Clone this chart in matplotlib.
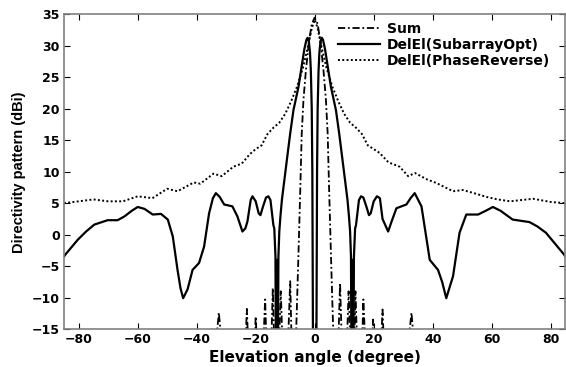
import matplotlib
matplotlib.use("Agg")
import matplotlib.pyplot as plt

plt.rcParams['font.family'] = ['DejaVu Sans']
plt.rcParams['font.weight'] = 'bold'

# Sum pattern (dash-dot)
sum_x = [-36, -32.5, -29, -24.5, -23, -21.5, -20, -18.5, -16.8, -15.5, -14.2, -13,
         -11.5, -10, -8.3, -7.2, -6.3, -6.0, -5.5, -4.9, -4.4, -3.8, -3, -2, -1, 0,
         1, 2, 3, 3.8, 4.4, 4.9, 5.5, 6.0, 6.3, 7.2, 8.6, 10, 11.5, 13, 13.8, 15.3,
         16.5, 18.3, 19.8, 21.3, 23, 24.5, 29, 32.8, 36]
sum_y = [-30, -12.4, -30, -30, -11.8, -30, -13.0, -30, -10.3, -30, -8.5, -30,
         -9.0, -30, -7.4, -30, -15.5, -11, -3, 7, 16, 21.5, 26, 30.5, 33.5, 34.5,
         33.5, 30.5, 26, 21.5, 16, 7, -3, -11, -15.5, -30, -7.7, -30, -9.0, -30, -9.0, -30,
         -10.3, -30, -13.5, -30, -11.9, -30, -30, -12.4, -30]

# DelEl (SubarrayOpt), solid
opt_x = [-85, -84.6, -80.3, -77.5, -74.7, -70.2, -66.8, -64.5, -62, -60, -57.7, -54.9,
         -52.1, -49.8, -48.1, -46.5, -45.5, -44.6, -43.1, -41.4, -39.2, -37.5, -35.8,
         -34.5, -33.5, -32.2, -30.7, -27.9, -26.2, -24.5, -23.5, -22.8, -21.7, -21.1,
         -20, -19, -18.4, -17.5, -16.5, -15.7, -15, -14.5, -14, -13.7, -13.3, -13.05,
         -12.8, -12.55, -12.3, -12.0, -11.6, -11.1, -10, -9, -8.3, -7.2, -5.5, -4.5,
         -3.5, -2.8, -2.4, -2.0, -1.6, -1.3, -1.0, -0.8, -0.6, 0,
         0.6, 0.8, 1.0, 1.3, 1.6, 2.0, 2.4, 2.8, 3.5, 4.5, 5.5, 7.2, 8.3, 9, 10, 11.1,
         11.6, 12.0, 12.3, 12.55, 12.8, 13.05, 13.3, 13.7, 14, 14.5, 15, 15.7, 16.5,
         17.5, 18.4, 19, 20, 21.1, 22.1, 23, 24.9, 26, 27.7, 31.1, 32.5, 33.9, 36.2,
         37.5, 39, 41.8, 43.2, 44.6, 46.9, 49.1, 51.4, 55.4, 58, 60.4, 63, 67.1, 72.8,
         75.5, 78.4, 84.6, 85]
opt_y = [-3.5, -3.2, -0.8, 0.5, 1.6, 2.3, 2.3, 2.9, 3.8, 4.4, 4.1, 3.2,
         3.3, 2.4, -0.3, -5.6, -8.5, -10.1, -8.7, -5.6, -4.5, -1.9, 3.4,
         5.8, 6.6, 6.0, 4.8, 4.5, 2.9, 0.5, 1.0, 2.1, 5.5, 6.1,
         5.3, 3.4, 3.1, 4.5, 5.9, 6.1, 5.5, 3.5, 1.5, 1.0, -3.5, -30,
         -4.0, -30, -3.5, 0.5, 3.0, 5.6, 9.8, 13.5, 16.1, 19.8, 23.5, 26.5,
         29.5, 31.0, 31.3, 30.8, 29.0, 26, 20, 10, -15, -40,
         -15, 10, 20, 26, 29.0, 30.8, 31.3, 31.0, 29.5, 26.5, 23.5, 19.8, 16.1, 13.5, 9.8, 5.6,
         3.0, 0.5, -3.5, -30, -4.0, -30, -3.5, 1.0, 1.5, 3.5, 5.5, 6.1, 5.9,
         4.5, 3.1, 3.4, 5.3, 6.1, 5.8, 2.5, 0.5, 2.0, 4.2, 4.8, 5.8, 6.6, 4.5,
         0.5, -4.0, -5.6, -7.5, -10.1, -6.6, 0.3, 3.2, 3.2, 3.8, 4.4, 3.8, 2.4, 2.0,
         1.3, 0.3, -3.2, -3.5]

# DelEl (PhaseReverse), dotted
rev_x = [-85, -80, -75, -70, -65, -60, -55, -50, -46.5, -41, -38.8, -34.3, -31.5,
         -27.6, -24.7, -22, -20, -18, -16, -14, -12, -10, -8, -6, -4, -2, -1, 0,
         1, 2, 4, 6, 8, 10, 12, 14, 16, 18, 20, 22, 25, 28.8, 31.7, 34, 38, 41.3,
         46.9, 50.2, 54, 58.2, 62, 66.3, 70, 74.1, 80, 85]
rev_y = [5.0, 5.3, 5.6, 5.3, 5.3, 6.1, 5.8, 7.3, 6.9, 8.3, 8.1, 9.7, 9.3,
         10.8, 11.3, 12.8, 13.6, 14.2, 16.0, 17.0, 17.8, 19.2, 21.2, 23.5, 26.5, 30.5, 32.8, 34.2,
         32.8, 30.5, 26.5, 23.5, 21.2, 19.2, 17.8, 17.0, 16.0, 14.2, 13.6, 13.0, 11.5, 10.8, 9.3, 9.8, 8.8, 8.2,
         6.9, 7.1, 6.6, 6.0, 5.6, 5.3, 5.5, 5.7, 5.2, 5.0]

x_ticks = [-80, -60, -40, -20, 0, 20, 40, 60, 80]
y_ticks = [-15, -10, -5, 0, 5, 10, 15, 20, 25, 30, 35]

fig = plt.figure(figsize=(5.66, 3.67), dpi=100)
ax = fig.add_axes([0.113, 0.1035, 0.886, 0.857])

ax.plot(sum_x, sum_y, color='black', lw=1.3, linestyle=(0, (4, 1.5, 1, 1.5)), label='Sum')
ax.plot(opt_x, opt_y, color='black', lw=1.6, linestyle='-', label='DelEl(SubarrayOpt)')
ax.plot(rev_x, rev_y, color='black', lw=1.4, linestyle=(0, (1, 1.2)), label='DelEl(PhaseReverse)')

ax.set_xlim(-85, 85)
ax.set_ylim(-15, 35)
ax.set_xticks(x_ticks)
ax.set_yticks(y_ticks)
ax.tick_params(direction='in', top=True, right=True, length=4, width=0.8, labelsize=9, pad=3)
for lab in ax.get_xticklabels() + ax.get_yticklabels():
    lab.set_fontweight('bold')
for sp in ax.spines.values():
    sp.set_color('#808080')
    sp.set_linewidth(1.2)

ax.set_xlabel('Elevation angle (degree)', fontsize=11, fontweight='bold', labelpad=3)
ax.set_ylabel('Directivity pattern (dBi)', fontsize=10.5, fontweight='bold', labelpad=4,
              family='Liberation Sans')

ax.legend(loc='upper left', bbox_to_anchor=(338 / 566, 1 - 22 / 367),
          bbox_transform=fig.transFigure, frameon=False,
          handlelength=3.0, handletextpad=0.5, labelspacing=0.15,
          borderpad=0, borderaxespad=0, prop={'weight': 'bold', 'size': 10})

fig.savefig('out.png', dpi=100)
